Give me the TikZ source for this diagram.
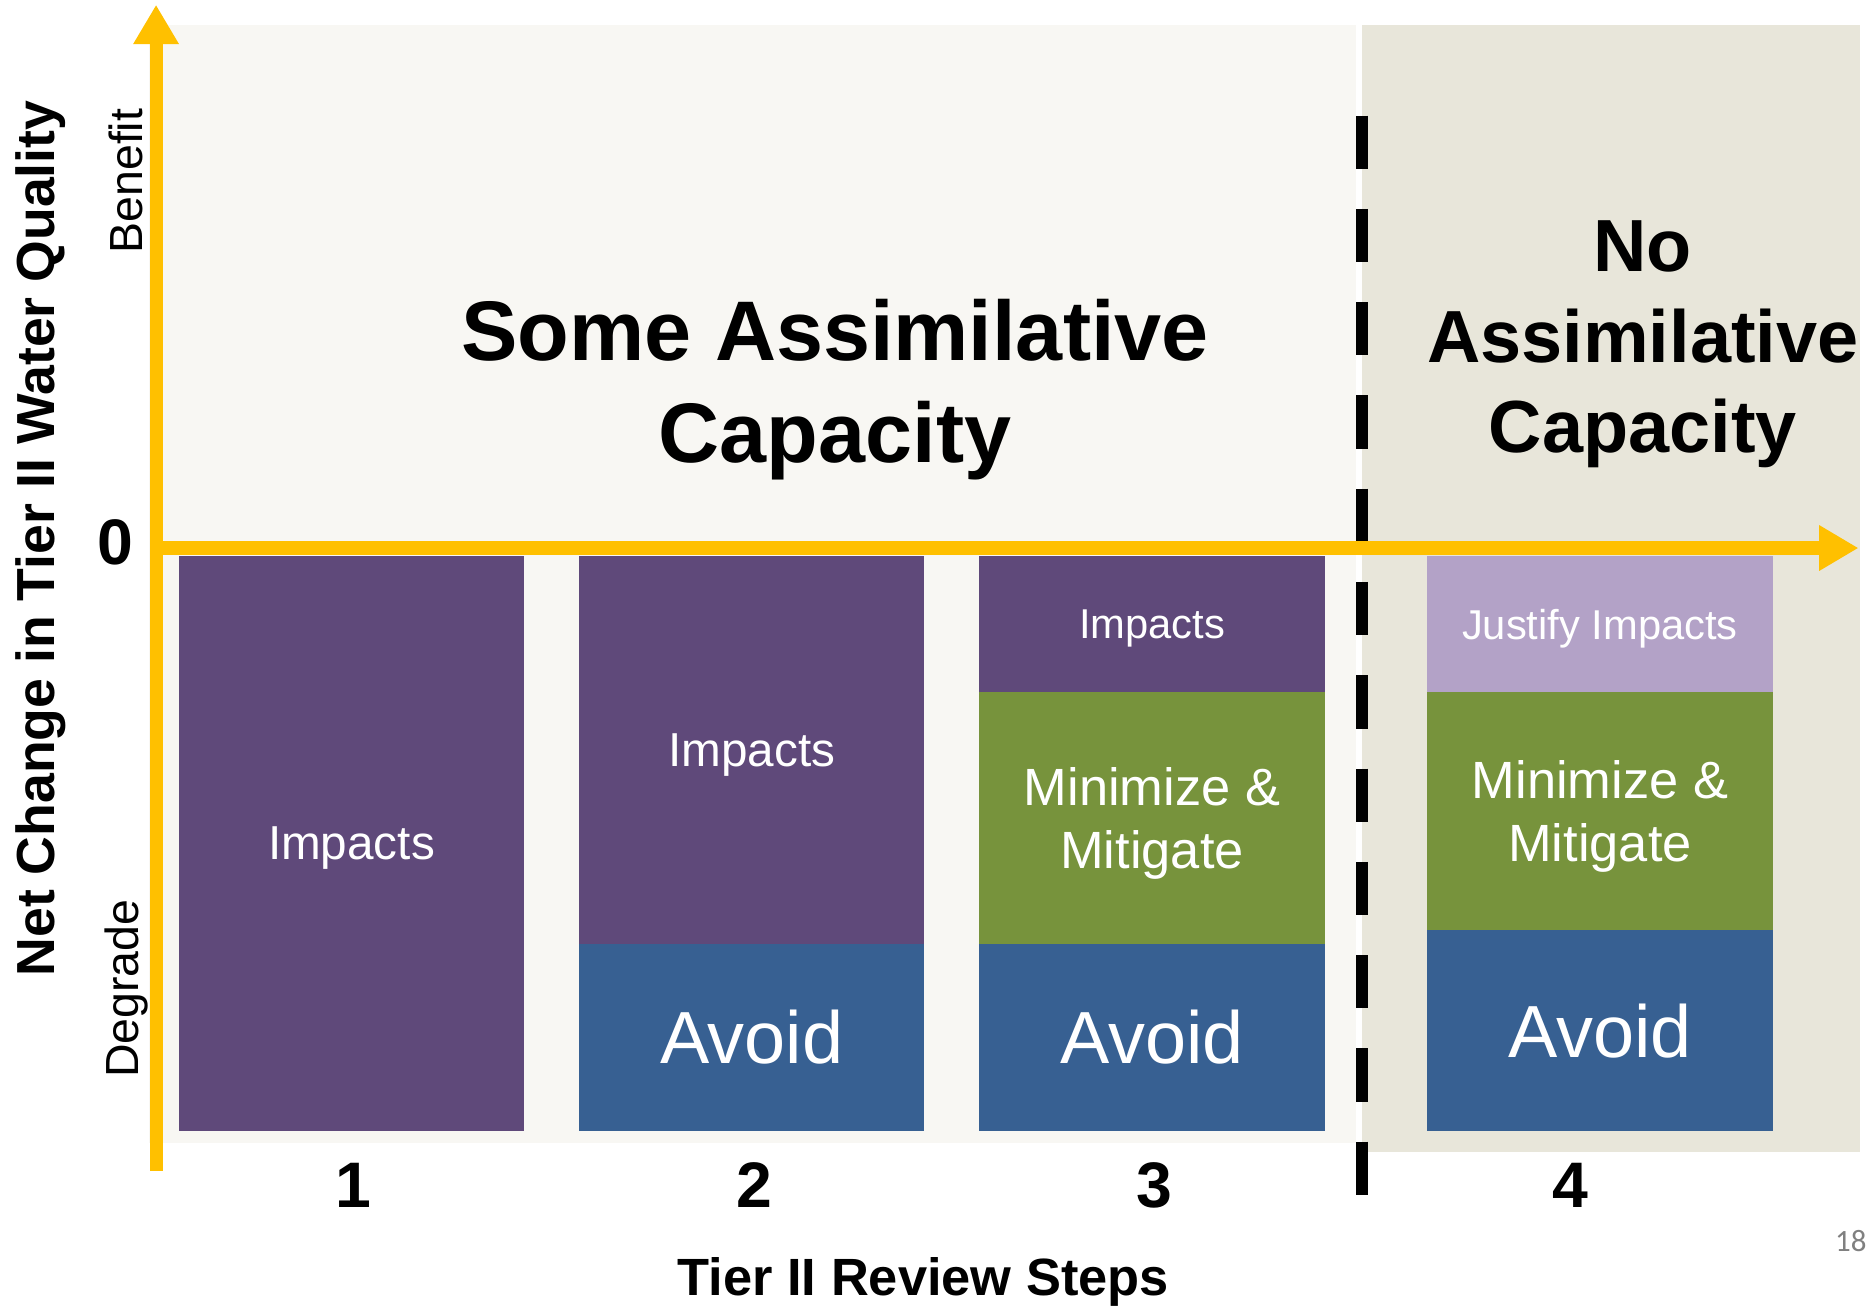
\documentclass[tikz,border=0pt]{standalone}
\usepackage{fontspec}
\setmainfont{Liberation Sans}
\newfontfamily\slidenum{Carlito}
\usepackage{tikz}
\usetikzlibrary{arrows.meta,positioning}
\definecolor{impact}{HTML}{5F497A}
\definecolor{justify}{HTML}{B3A2C7}
\definecolor{mitig}{HTML}{77933C}
\definecolor{avoid}{HTML}{376092}
\definecolor{axisgold}{HTML}{FFC000}
\definecolor{panelA}{HTML}{F8F7F3}
\definecolor{panelB}{HTML}{E8E6DA}
\definecolor{pagegray}{HTML}{808080}
\newcommand\fsz[2]{\fontsize{#1}{#2}\selectfont}
\tikzset{
    Seg/.style = {rectangle,inner sep=0pt,outer sep=0pt,minimum width=290pt,text depth=-5pt,text=white,align=center},
    Axis/.style = {line width=11pt,color=axisgold,-{Triangle[length=33pt,width=36pt]}},
    Side/.style = {rotate=90,font=\fsz{39}{46}},
    StepNo/.style = {font=\bfseries\fsz{54}{60}}
}

\begin{document}
\begin{tikzpicture}[x=1pt,y=-1pt]
        \useasboundingbox (0,0) rectangle (1568,1098);
        \fill[panelA] (125,21) rectangle (1138,959);
        \fill[panelB] (1143,21) rectangle (1561,967);
        \node[Seg,fill=impact,anchor=north west,minimum height=482pt,font=\fsz{40}{48}] (c1i) at (150,467) {Impacts};
        \node[Seg,fill=impact,anchor=north west,minimum height=325pt,font=\fsz{40}{48}] (c2i) at (486,467) {Impacts};
        \node[Seg,fill=avoid,below=0pt of c2i,minimum height=157pt,font=\fsz{62}{70}] (c2a) {Avoid};
        \node[Seg,fill=impact,anchor=north west,minimum height=114pt,font=\fsz{35}{42}] (c3i) at (822,467) {Impacts};
        \node[Seg,fill=mitig,below=0pt of c3i,minimum height=211pt,font=\fsz{44}{53}] (c3m) {Minimize \&\\Mitigate};
        \node[Seg,fill=avoid,below=0pt of c3m,minimum height=157pt,font=\fsz{62}{70}] (c3a) {Avoid};
        \node[Seg,fill=justify,anchor=north west,minimum height=114pt,font=\fsz{35}{42}] (c4j) at (1198,467) {Justify Impacts};
        \node[Seg,fill=mitig,below=0pt of c4j,minimum height=200pt,font=\fsz{44}{53}] (c4m) {Minimize \&\\Mitigate};
        \node[Seg,fill=avoid,below=0pt of c4m,minimum height=168pt,font=\fsz{62}{70}] (c4a) {Avoid};
        \coordinate (D1) at (1143,97);
        \coordinate (D2) at (1143,1003);
        \draw[line width=10pt,dash pattern=on 44.7pt off 33.6pt] (D1) -- (D2);
        \coordinate (O) at (131,460);
        \coordinate (Ybot) at (131,983);
        \coordinate (Ytip) at (131,4);
        \coordinate (Xtip) at (1560,460);
        \draw[Axis] (Ybot) -- (Ytip);
        \draw[Axis] (O) -- (Xtip);
        \node[font=\bfseries\fsz{71}{85},align=center] (some) at (701,327) {Some Assimilative\\Capacity};
        \node[font=\bfseries\fsz{62}{76},align=center] (none) at (1379,289) {No\\Assimilative\\Capacity};
        \node[StepNo] (zero) at (97,455) {0};
        \foreach \n/\x in {1/297,2/633,3/969,4/1318}
            {\node[StepNo] (n\n) at (\x,995) {\n};}
        \node[font=\bfseries\fsz{44}{52}] (xtitle) at (775,1076) {Tier II Review Steps};
        \node[rotate=90,font=\bfseries\fsz{45}{52}] (ytitle) at (34,452) {Net Change in Tier II Water Quality};
        \node[Side] (ben) at (106,152) {Benefit};
        \node[Side] (deg) at (106,830) {Degrade};
        \node[anchor=east,inner sep=1pt,text=pagegray,font=\slidenum\fsz{26}{30}] (pg) at (1568,1042) {18};
\end{tikzpicture}
\end{document}
